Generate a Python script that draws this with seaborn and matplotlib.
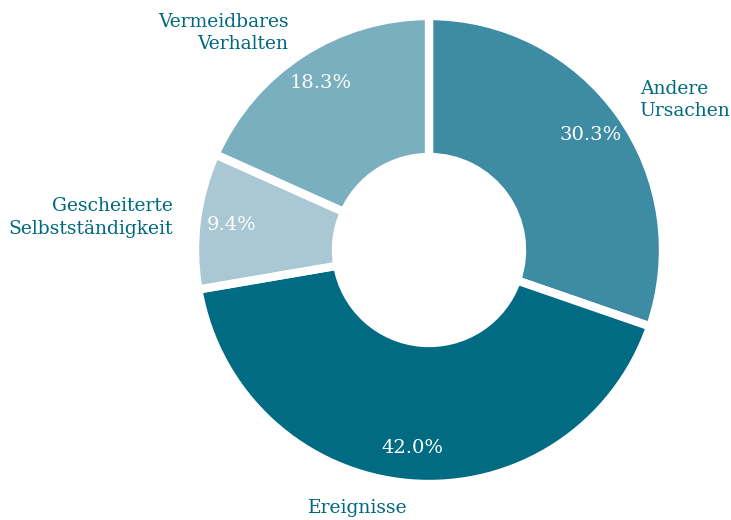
import matplotlib
matplotlib.use("Agg")
import matplotlib.pyplot as plt
import seaborn as sns

categories = ["Andere\nUrsachen", "Ereignisse", "Gescheiterte\nSelbstständigkeit", "Vermeidbares\nVerhalten"]
shares = [30.3, 42.0, 9.4, 18.3]
colors = ["#3d8ca3", "#006b82", "#a9c8d4", "#7aafbf"]

sns.set_theme(style="white")
plt.rcParams["font.family"] = ["DejaVu Serif", "DejaVu Sans"]

cx, cy = 429, 270

fig = plt.figure(figsize=(7.31, 5.20), dpi=100)
ax = fig.add_axes([0, 0, 1, 1])

wedges, texts, autotexts = ax.pie(
    shares,
    labels=categories,
    colors=colors,
    startangle=90,
    counterclock=False,
    center=(cx, cy),
    radius=234,
    frame=True,
    labeldistance=1.105,
    pctdistance=0.85,
    autopct="%.1f%%",
    wedgeprops=dict(width=141, edgecolor="white", linewidth=6),
    textprops=dict(fontsize=13.5),
)

# pie picks alignment from absolute x; with an offset centre fix it here
for t in texts:
    x, y = t.get_position()
    ha = "left" if x > cx else "right"
    t.set_horizontalalignment(ha)
    t.set_multialignment(ha)
    t.set_color("#00697f")
    t.set_linespacing(1.35)
for t in autotexts:
    t.set_color("white")
    t.set_fontsize(14)

ax.set_xlim(0, 731)
ax.set_ylim(0, 520)
ax.set_aspect("equal")
ax.axis("off")

fig.savefig("out.png", dpi=100)
